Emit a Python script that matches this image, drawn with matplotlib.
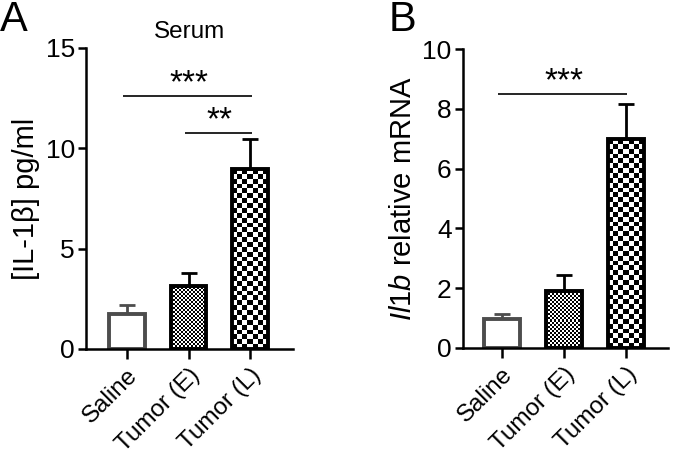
import numpy as np
import matplotlib
matplotlib.use("Agg")
import matplotlib.pyplot as plt
from matplotlib.transforms import ScaledTranslation

plt.rcParams['font.family'] = ['Liberation Sans', 'DejaVu Sans']
plt.rcParams['mathtext.fontset'] = 'custom'
plt.rcParams['mathtext.rm'] = 'Liberation Sans'
plt.rcParams['mathtext.it'] = 'Liberation Sans:italic'

# data
groups = ["Saline", "Tumor (E)", "Tumor (L)"]
serum_mean = [1.75, 3.15, 8.95]
serum_err = [0.45, 0.63, 1.52]
mrna_mean = [0.97, 1.90, 6.98]
mrna_err = [0.16, 0.55, 1.20]

# significance bars: (left group, right group, height, label)
serum_sig = [(0, 2, 12.6, "***"), (1, 2, 10.75, "**")]
mrna_sig = [(0, 2, 8.5, "***")]

# fill styles per group: None = white, else checker cell size in px
cell_px = [None, 2, 4.8]
edge_cols = ["#4d4d4d", "black", "black"]

fig = plt.figure(figsize=(6.87, 4.65), dpi=100)
axA = fig.add_axes([0.125, 0.2495, 0.3015, 0.6475])
axB = fig.add_axes([0.6735, 0.2523, 0.2985, 0.6417])


def checker_fill(ax, bar, cell):
    """Fill a bar with a checkerboard, clipped to the bar patch."""
    x0, y0 = bar.get_x(), bar.get_y()
    x1, y1 = x0 + bar.get_width(), y0 + bar.get_height()
    (px0, py0), (px1, py1) = ax.transData.transform([(x0, y0), (x1, y1)])
    ncol = max(1, int(round((px1 - px0) / cell)))
    nrow = max(1, int(round((py1 - py0) / cell)))
    ii, jj = np.indices((nrow, ncol))
    board = (ii + jj) % 2
    im = ax.imshow(board, cmap='gray', extent=(x0, x1, y0, y1),
                   origin='upper', interpolation='nearest', aspect='auto',
                   zorder=1, vmin=0, vmax=1)
    im.set_clip_path(bar)


def draw_panel(ax, means, errs, sigs, ylim, yticks, xlim, ylabel):
    x = np.arange(len(groups))
    ax.set_xlim(*xlim)
    ax.set_ylim(*ylim)
    bars = ax.bar(x, means, width=0.58, color='white', linewidth=2.8,
                  edgecolor=edge_cols, zorder=2)
    for b, c in zip(bars, cell_px):
        if c is not None:
            b.set_facecolor('none')
            checker_fill(ax, b, c)
    for xi, m, e, col in zip(x, means, errs, edge_cols):
        ax.errorbar(xi, m, yerr=[[0], [e]], fmt='none', ecolor=col,
                    elinewidth=2.0, capsize=6, capthick=2.0, zorder=1.5)
    for i, j, h, lab in sigs:
        ax.plot([i - 0.06, j + 0.02], [h, h], color='black', lw=1.2,
                solid_capstyle='butt')
        ax.annotate(lab, xy=((i + j) / 2, h), xytext=(0, -2),
                    textcoords='offset points', ha='center', va='bottom',
                    fontsize=24)
    ax.set_yticks(yticks)
    ax.set_xticks(x)
    ax.set_xticklabels(groups, rotation=45, ha='right',
                       rotation_mode='anchor', fontsize=17.5)
    shift = ScaledTranslation(5 / 72, -2 / 72, fig.dpi_scale_trans)
    for lbl in ax.get_xticklabels():
        lbl.set_transform(lbl.get_transform() + shift)
    ax.tick_params(axis='y', labelsize=19, width=1.8, length=6, pad=2)
    ax.tick_params(axis='x', width=1.8, length=7, pad=4)
    for s in ['top', 'right']:
        ax.spines[s].set_visible(False)
    for s in ['left', 'bottom']:
        ax.spines[s].set_linewidth(1.8)
    ax.set_ylabel(ylabel, fontsize=21, labelpad=4)


draw_panel(axA, serum_mean, serum_err, serum_sig, (0, 15), [0, 5, 10, 15],
           (-0.66, 2.69), "[IL-1β] pg/ml")
axA.set_title("Serum", fontsize=17.5, pad=7)

draw_panel(axB, mrna_mean, mrna_err, mrna_sig, (0, 10), [0, 2, 4, 6, 8, 10],
           (-0.63, 2.68), r"$\mathit{Il1b}$ relative mRNA")

fig.text(0.0, 1.0, "A", fontsize=30, ha='left', va='top')
fig.text(0.566, 1.0, "B", fontsize=30, ha='left', va='top')

fig.savefig("out.png", dpi=100)
